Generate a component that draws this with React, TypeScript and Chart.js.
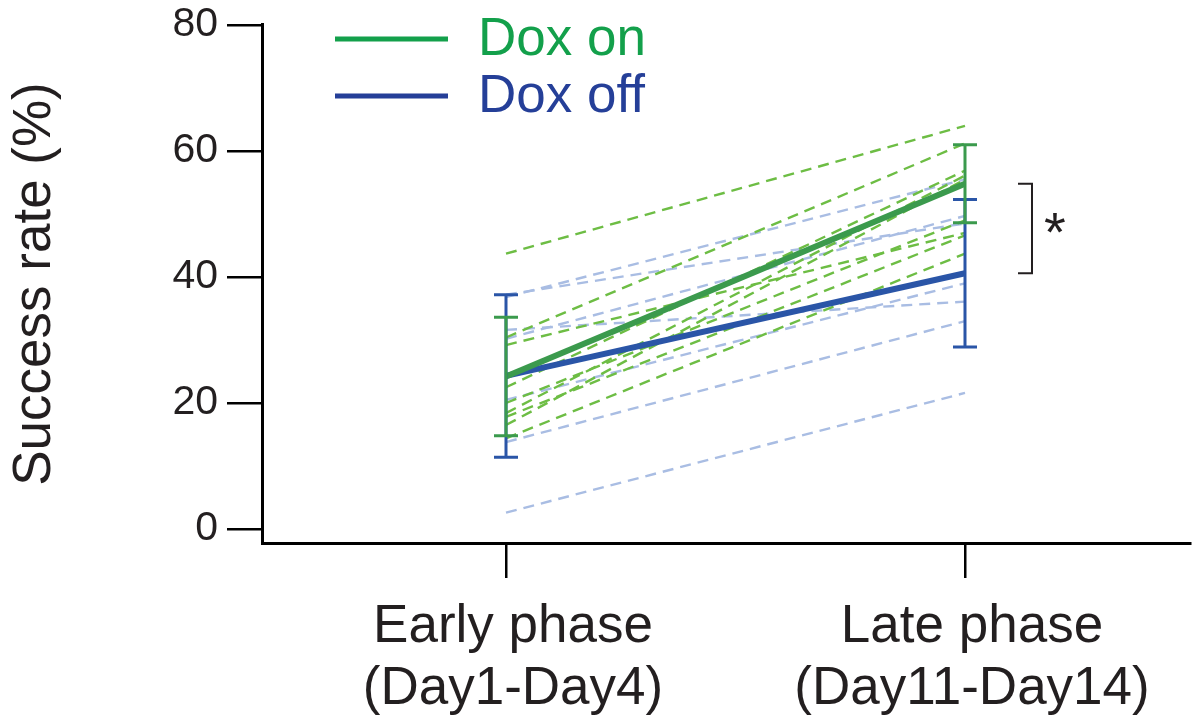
import React, { useEffect, useRef } from "react";
import { Chart, registerables } from "chart.js";

Chart.register(...registerables);

// ---- data ----
const xPositions = [1, 2];
const xLabels = [
  ["Early phase", "(Day1-Day4)"],
  ["Late phase", "(Day11-Day14)"],
];
const yTicks = [0, 20, 40, 60, 80];
const legendLabels = ["Dox on", "Dox off"];

// individual animals (early -> late)
const doxOnEarly = [43.7, 30.4, 29.2, 22.5, 20.0, 18.4, 17.8, 16.5, 14.4];
const doxOnLate = [64.0, 61.2, 47.0, 56.9, 49.0, 56.1, 46.6, 55.5, 43.7];
const doxOffEarly = [36.8, 37.2, 31.6, 30.2, 20.5, 13.8, 2.6];
const doxOffLate = [55.5, 48.5, 36.1, 49.7, 39.0, 33.0, 21.6];

// group means and error (early, late)
const meanOn = [24.2, 54.8];
const errOn = [9.4, 6.2];
const meanOff = [24.3, 40.6];
const errOff = [12.9, 11.7];

const significance = "*";

// ---- styles ----
const FONT = "'Liberation Sans', Arial, Helvetica, sans-serif";
const TEXT = "#231f20";
const GREEN_MEAN = "#3b9a4d";
const BLUE_MEAN = "#2a55a7";
const GREEN_DASH = "#6dbd44";
const BLUE_DASH = "#a9bde3";
const GREEN_LEGEND = "#13a04b";
const BLUE_LEGEND = "#253f98";

const overlayPlugin = {
  id: "overlay",
  afterDatasetsDraw(chart: any) {
    const { ctx, scales } = chart;
    const x = scales.x;
    const y = scales.y;
    ctx.save();
    const drawErr = (means: number[], errs: number[], color: string) => {
      ctx.strokeStyle = color;
      ctx.lineWidth = 3;
      ctx.lineCap = "butt";
      for (let i = 0; i < means.length; i++) {
        const px = x.getPixelForValue(xPositions[i]);
        const top = y.getPixelForValue(means[i] + errs[i]);
        const bot = y.getPixelForValue(means[i] - errs[i]);
        ctx.beginPath();
        ctx.moveTo(px, top);
        ctx.lineTo(px, bot);
        ctx.moveTo(px - 12, top);
        ctx.lineTo(px + 12, top);
        ctx.moveTo(px - 12, bot);
        ctx.lineTo(px + 12, bot);
        ctx.stroke();
      }
    };
    drawErr(meanOff, errOff, BLUE_MEAN);
    drawErr(meanOn, errOn, GREEN_MEAN);

    // significance bracket
    const lx = x.getPixelForValue(xPositions[1]);
    const bt = y.getPixelForValue(meanOn[1]);
    const bb = y.getPixelForValue(meanOff[1]);
    ctx.strokeStyle = TEXT;
    ctx.lineWidth = 2;
    ctx.beginPath();
    ctx.moveTo(lx + 53, bt);
    ctx.lineTo(lx + 67, bt);
    ctx.lineTo(lx + 67, bb);
    ctx.lineTo(lx + 53, bb);
    ctx.stroke();
    ctx.fillStyle = TEXT;
    ctx.font = `56px ${FONT}`;
    ctx.textAlign = "center";
    ctx.textBaseline = "alphabetic";
    ctx.fillText(significance, lx + 90, (bt + bb) / 2 + 23);

    // legend
    const colors = [GREEN_LEGEND, BLUE_LEGEND];
    const lineYs = [39, 96];
    const baseYs = [55, 112];
    ctx.font = `53px ${FONT}`;
    ctx.textAlign = "left";
    for (let i = 0; i < legendLabels.length; i++) {
      ctx.strokeStyle = colors[i];
      ctx.lineWidth = 5;
      ctx.beginPath();
      ctx.moveTo(335, lineYs[i]);
      ctx.lineTo(448, lineYs[i]);
      ctx.stroke();
      ctx.fillStyle = colors[i];
      ctx.fillText(legendLabels[i], 478, baseYs[i]);
    }
    ctx.restore();
  },
};

function pairLine(a: number, b: number, color: string, order: number) {
  return {
    data: [
      { x: xPositions[0], y: a },
      { x: xPositions[1], y: b },
    ],
    borderColor: color,
    borderWidth: 2.4,
    borderDash: [11, 7],
    pointRadius: 0,
    fill: false,
    order,
  };
}

export default function App() {
  const ref = useRef<HTMLCanvasElement | null>(null);
  useEffect(() => {
    if (!ref.current) return;
    const datasets: any[] = [];
    doxOffEarly.forEach((v, i) => datasets.push(pairLine(v, doxOffLate[i], BLUE_DASH, 3)));
    doxOnEarly.forEach((v, i) => datasets.push(pairLine(v, doxOnLate[i], GREEN_DASH, 2)));
    datasets.push({
      data: xPositions.map((p, i) => ({ x: p, y: meanOff[i] })),
      borderColor: BLUE_MEAN,
      borderWidth: 6,
      pointRadius: 0,
      order: 1,
    });
    datasets.push({
      data: xPositions.map((p, i) => ({ x: p, y: meanOn[i] })),
      borderColor: GREEN_MEAN,
      borderWidth: 6,
      pointRadius: 0,
      order: 0,
    });
    const chart = new Chart(ref.current, {
      type: "line",
      data: { datasets },
      plugins: [overlayPlugin],
      options: {
        responsive: false,
        animation: false,
        layout: { padding: { top: 0, right: 6, left: 0, bottom: 0 } },
        plugins: { legend: { display: false }, tooltip: { enabled: false } },
        scales: {
          x: {
            type: "linear",
            min: 0.4684,
            max: 2.4902,
            afterBuildTicks: (s: any) => {
              s.ticks = xPositions.map((v) => ({ value: v }));
            },
            afterFit: (s: any) => {
              s.height = 182;
            },
            ticks: {
              autoSkip: false,
              maxRotation: 0,
              padding: 18,
              labelOffset: 7,
              color: TEXT,
              font: { size: 53, family: FONT, lineHeight: 1.18 },
              callback: (v: any) => {
                const idx = xPositions.indexOf(v);
                return idx >= 0 ? xLabels[idx] : "";
              },
            },
            grid: {
              drawOnChartArea: false,
              drawTicks: true,
              tickLength: 35,
              color: "#000",
              lineWidth: 2.5,
            },
            border: { display: true, color: "#000", width: 3 },
          },
          y: {
            type: "linear",
            min: -2.22,
            max: 80,
            afterBuildTicks: (s: any) => {
              s.ticks = yTicks.map((v) => ({ value: v }));
            },
            afterFit: (s: any) => {
              s.width = 262;
            },
            ticks: {
              padding: 9,
              color: TEXT,
              font: { size: 41, family: FONT, lineHeight: 0.78 },
            },
            grid: {
              drawOnChartArea: false,
              drawTicks: true,
              tickLength: 35,
              color: "#000",
              lineWidth: 2.5,
            },
            border: { display: true, color: "#000", width: 3 },
            title: {
              display: true,
              text: "Success rate (%)",
              color: TEXT,
              font: { size: 53, family: FONT },
              padding: { top: 4, bottom: 0 },
            },
          },
        },
      },
    } as any);
    return () => chart.destroy();
  }, []);
  return (
    <div style={{ position: "fixed", left: 0, top: 0, width: 1196, height: 725, background: "#fff" }}>
      <canvas ref={ref} width={1196} height={725} style={{ display: "block" }} />
    </div>
  );
}
